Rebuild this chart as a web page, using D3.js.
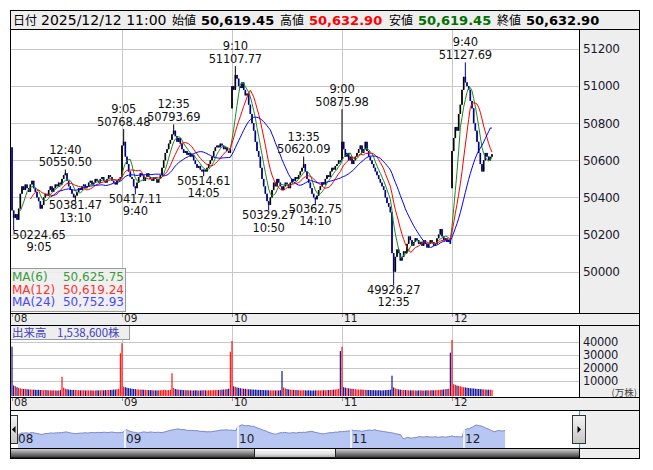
<!DOCTYPE html>
<html><head><meta charset="utf-8">
<script src="https://cdn.jsdelivr.net/npm/d3@7/dist/d3.min.js"></script>
<style>
html,body{margin:0;padding:0;background:#fff;}
svg{display:block;}
text{font-family:"DejaVu Sans","Noto Sans CJK JP",sans-serif;}
.cjk{font-family:"Noto Sans CJK JP","DejaVu Sans",sans-serif;}
</style></head><body>
<svg id="chart" width="653" height="470"></svg>
<script>
// ---------------- DATA ----------------
const days = ["08","09","10","11","12"];
const yearMonth = "2025/12";
const lastTime = "11:00";
const dayOpens = [50670, 50510, 50880, 50600, 50450];

const close08 = [50330,50290,50310,50280,50340,50420,50460,50440,50470,50450,
 50430,50470,50490,50450,50430,50400,50380,50340,50360,50400,
 50420,50410,50440,50460,50430,50450,50470,50460,50480,50470,
 50500,50520,50530,50490,50460,50440,50420,50400,50410,50430,
 50450,50440,50460,50470,50450,50460,50480,50490,50470,50480,
 50500,50490,50480,50500,50510,50490,50480,50500,50520,50510,
 50490,50480,50470,50490,50500,50510];
const close09 = [50680,50700,50620,50580,50540,50510,50500,50460,50450,50480,
 50510,50530,50520,50490,50510,50530,50510,50500,50490,50510,
 50500,50480,50500,50520,50560,50600,50640,50660,50690,50710,
 50740,50760,50730,50700,50720,50690,50660,50640,50650,50630,
 50640,50620,50630,50600,50580,50560,50570,50550,50540,50550,
 50540,50560,50580,50600,50620,50650,50670,50680,50670,50690,
 50680,50660,50670,50650,50640,50660];
const close10 = [51000,50980,51060,51040,51000,50990,51020,50980,50950,50960,
 50900,50850,50800,50760,50700,50650,50620,50560,50500,50460,
 50420,50380,50360,50400,50440,50480,50460,50500,50480,50460,
 50440,50460,50480,50470,50450,50480,50500,50490,50510,50500,
 50520,50540,50560,50580,50540,50500,50480,50450,50420,50400,
 50390,50410,50440,50460,50480,50470,50500,50520,50510,50540,
 50560,50550,50570,50580,50600,50590];
const close11 = [50700,50660,50620,50640,50600,50620,50580,50600,50620,50640,
 50660,50680,50640,50660,50700,50650,50620,50600,50580,50560,
 50540,50520,50500,50480,50460,50440,50400,50370,50350,50320,
 50100,50000,50080,50120,50100,50060,50080,50110,50100,50150,
 50190,50170,50140,50160,50180,50170,50150,50160,50140,50170,
 50150,50130,50150,50170,50160,50140,50150,50180,50200,50230,
 50190,50170,50180,50160,50170,50150];
const close12 = [50650,50720,50780,50760,50850,50900,50980,51050,51020,51000,
 50980,50920,50880,50800,50760,50700,50640,50580,50540,50600,
 50640,50620,50600,50619.45,50632.90];

const vol08 = [36600,6500,6000,5200,4600,4300,4000,3800,3800,3600,
 3500,3400,3300,3300,3200,3100,3200,3000,3000,2900,
 3000,2900,2800,2800,2700,2800,2700,2600,2700,2900,
 13300,4800,4000,3600,3400,3200,3100,3100,3000,2900,
 2900,2800,2800,2900,2700,2800,2700,2800,2700,2600,
 2700,2800,2700,2800,2900,2800,3000,2900,3000,3100,
 3200,3300,3400,3600,3900,31500];
const vol09 = [39200,5600,5200,4800,4500,4200,4000,3800,3700,3500,
 3400,3300,3300,3200,3100,3000,3000,2900,2900,2800,
 2800,2700,2800,2900,3000,3100,3000,2900,3000,3100,
 16000,4500,3800,3500,3300,3200,3100,3000,2900,2900,
 2800,2800,2700,2700,2800,2700,2600,2700,2800,2900,
 2800,2700,2800,2900,2800,2900,3000,3000,3100,3200,
 3300,3400,3500,3700,4000,32700];
const vol10 = [41000,5900,5500,5000,4700,4400,4200,4000,3900,3700,
 3600,3500,3400,3300,3300,3200,3100,3100,3000,3000,
 2900,2900,2800,2800,2700,2800,2700,2800,2700,2900,
 17700,5000,4200,3800,3500,3300,3200,3100,3000,3000,
 2900,2800,2800,2900,2800,2700,2800,2700,2600,2700,
 2800,2700,2800,2700,2800,2900,2800,3000,3000,3100,
 3200,3300,3400,3600,3900,33200];
const vol11 = [36600,5200,4800,4500,4300,4100,3900,3800,3700,3500,
 3400,3400,3300,3200,3200,3100,3000,3000,2900,2900,
 2800,2800,2900,2800,2700,2800,2900,3000,3100,3300,
 14100,5000,4200,3800,3500,3300,3100,3000,3000,2900,
 2800,2800,2700,2800,2700,2600,2700,2800,2700,2600,
 2700,2800,2700,2800,2900,2800,2900,3000,3100,3200,
 3300,3400,3600,3800,4000,32000];
const vol12 = [41800,7500,7000,6500,6200,5800,5500,5200,5000,4800,
 4600,4400,4300,4200,4000,3900,3800,3700,3600,3500,
 3400,3300,3300,3200,3100];

// annotated local highs / lows
const annoDay   = [0,0,0,1,1,1,1,2,2,2,2,3,3,4];
const annoTime  = ["9:05","12:40","13:10","9:05","9:40","12:35","14:05","9:10","10:50","13:35","14:10","9:00","12:35","9:40"];
const annoValue = [50224.65,50550.50,50381.47,50768.48,50417.11,50793.69,50514.61,51107.77,50329.27,50620.09,50362.75,50875.98,49926.27,51127.69];
const annoType  = ["L","H","L","H","L","H","L","H","L","H","L","H","L","H"];

const priceTicks = [50000,50200,50400,50600,50800,51000,51200];
const volTicks = [10000,20000,30000,40000];
const maPeriods = [6,12,24];
const maNames = ["MA(6)","MA(12)","MA(24)"];
const maLegendValues = [50625.75, 50619.24, 50752.93];
const volumeTotal = 1538600;

// ---------------- BUILD ----------------
const closes = [close08, close09, close10, close11, close12];
const vols = [vol08, vol09, vol10, vol11, vol12];
const PER_DAY = 66;
const bars = [];
closes.forEach((arr, d) => arr.forEach((c, i) => {
  const o = i === 0 ? dayOpens[d] : bars[bars.length - 1].c;
  bars.push({g: d * PER_DAY + i, d, i, o, c, h: Math.max(o, c), l: Math.min(o, c), v: vols[d][i]});
}));
function timeToIdx(t) {
  const [h, m] = t.split(":").map(Number);
  const mins = h * 60 + m;
  return mins < 720 ? (mins - 540) / 5 : 30 + (mins - 750) / 5;
}
const annos = annoDay.map((d, k) => {
  const b = bars.find(q => q.d === d && q.i === timeToIdx(annoTime[k]));
  if (annoType[k] === "H") b.h = Math.max(b.h, annoValue[k]); else b.l = Math.min(b.l, annoValue[k]);
  return {b, t: annoTime[k], v: annoValue[k], type: annoType[k]};
});
const mas = maPeriods.map(n => bars.map((b, k) => k < n - 1 ? null :
  d3.mean(bars.slice(k - n + 1, k + 1), q => q.c)));

// ---------------- LAYOUT ----------------
const svg = d3.select("#chart");
const L = 10, R = 640, PR = 579;
const HB = 29, MB = 313, D1B = 325, VB = 397, D2B = 410, NB = 448, FB = 458;
const GRAY = "#eeeeee", GRID = "#c8c8c8";
const UP = "#000000", DOWN = "#00008c", VUP = "#ff0000", VDN = "#00008c";
const MACOL = ["#1a8a1a", "#ff0000", "#0000ff"];
const MATXT = ["#3a9a3a", "#ff3333", "#4848ff"];

const x = d3.scaleLinear().domain([0, PER_DAY]).range([12, 122]);
const y = d3.scaleLinear().domain([50000, 51200]).range([271.7, 49]);
const yv = d3.scaleLinear().domain([0, 40000]).range([393.9, 342.3]);
const nx = d3.scaleLinear().domain([0, PER_DAY]).range([12, 125]);
const ny = d3.scaleLinear().domain([49926, 51127]).range([440, 424]);

const defs = svg.append("defs");
defs.append("clipPath").attr("id", "cpMain").append("rect").attr("x", L + 1).attr("y", HB + 1).attr("width", PR - L - 1).attr("height", MB - HB - 1);
defs.append("clipPath").attr("id", "cpNav").append("rect").attr("x", 18).attr("y", D2B + 1).attr("width", 554).attr("height", NB - D2B - 1);
function grad(id, stops) {
  const g = defs.append("linearGradient").attr("id", id).attr("x1", 0).attr("y1", 0).attr("x2", 0).attr("y2", 1);
  stops.forEach(([o, c]) => g.append("stop").attr("offset", o).attr("stop-color", c));
}
grad("gBar", [[0, "#d8d8d8"], [0.5, "#8a8a8a"], [1, "#3a3a3a"]]);
grad("gThumb", [[0, "#ffffff"], [0.6, "#e0e0e0"], [1, "#a8a8a8"]]);
grad("gBtn", [[0, "#f4f4f4"], [1, "#c4c4c4"]]);

// backgrounds
svg.append("rect").attr("x", L).attr("y", 10).attr("width", R - L).attr("height", HB - 10).attr("fill", GRAY);
svg.append("rect").attr("x", PR).attr("y", HB).attr("width", R - PR).attr("height", MB - HB).attr("fill", GRAY);
svg.append("rect").attr("x", L).attr("y", MB).attr("width", R - L).attr("height", D1B - MB).attr("fill", GRAY);
svg.append("rect").attr("x", PR).attr("y", D1B).attr("width", R - PR).attr("height", VB - D1B).attr("fill", GRAY);
svg.append("rect").attr("x", L).attr("y", VB).attr("width", R - L).attr("height", D2B - VB).attr("fill", GRAY);
svg.append("rect").attr("x", PR).attr("y", D2B).attr("width", R - PR).attr("height", FB - D2B).attr("fill", GRAY);

// ---------------- HEADER ----------------
const last = bars[bars.length - 1];
const f2 = d3.format(",.2f");
const header = [
  {t: "日付", x: 13, cjk: true},
  {t: `${yearMonth}/${days[days.length - 1]} ${lastTime}`, x: 41, size: 14},
  {t: "始値", x: 172, cjk: true}, {t: f2(last.o), x: 201, bold: true, col: "#000"},
  {t: "高値", x: 280, cjk: true}, {t: f2(last.h), x: 309, bold: true, col: "#ff0000"},
  {t: "安値", x: 389, cjk: true}, {t: f2(last.l), x: 418, bold: true, col: "#007000"},
  {t: "終値", x: 497, cjk: true}, {t: f2(last.c), x: 526, bold: true, col: "#000"}
];
header.forEach(h => {
  svg.append("text").attr("x", h.x).attr("y", 24.5).text(h.t)
    .attr("class", h.cjk ? "cjk" : null)
    .attr("font-size", h.cjk ? 12 : (h.size || 13))
    .attr("font-weight", h.bold ? "bold" : "normal")
    .attr("fill", h.col || "#000");
});

// ---------------- MAIN GRID ----------------
const gMain = svg.append("g");
gMain.selectAll(".hg").data(priceTicks).join("line")
  .attr("x1", L).attr("x2", PR).attr("y1", d => Math.round(y(d)) + 0.5).attr("y2", d => Math.round(y(d)) + 0.5)
  .attr("stroke", GRID);
const dayStarts = days.map((d, k) => k * PER_DAY);
gMain.selectAll(".vg").data(dayStarts.slice(1)).join("line")
  .attr("x1", d => Math.round(x(d)) + 0.5).attr("x2", d => Math.round(x(d)) + 0.5).attr("y1", HB).attr("y2", MB)
  .attr("stroke", GRID);

// axis labels (price)
const axP = svg.append("g").attr("transform", `translate(${PR},0)`)
  .call(d3.axisRight(y).tickValues(priceTicks).tickSize(0).tickPadding(4).tickFormat(d3.format("d")));
axP.select(".domain").remove();
axP.selectAll("text").attr("font-size", 12).attr("fill", "#1a1a2e").attr("font-family", "DejaVu Sans").attr("letter-spacing", "-0.3");

// candles
const gC = svg.append("g").attr("clip-path", "url(#cpMain)");
gC.selectAll(".wick").data(bars).join("line")
  .attr("x1", b => x(b.g)).attr("x2", b => x(b.g)).attr("y1", b => y(b.h)).attr("y2", b => y(b.l))
  .attr("stroke", b => b.c >= b.o ? UP : DOWN).attr("stroke-width", 1);
gC.selectAll(".body").data(bars).join("rect")
  .attr("x", b => x(b.g) - 0.8).attr("width", 1.6)
  .attr("y", b => y(Math.max(b.o, b.c))).attr("height", b => Math.max(1, Math.abs(y(b.o) - y(b.c))))
  .attr("fill", b => b.c >= b.o ? UP : DOWN);

// moving averages
mas.forEach((arr, k) => {
  const line = d3.line().defined(d => d.v != null).x(d => x(d.g)).y(d => y(d.v));
  gC.append("path").datum(bars.map((b, j) => ({g: b.g, v: arr[j]})))
    .attr("d", line).attr("fill", "none").attr("stroke", MACOL[k]).attr("stroke-width", 1);
});

// annotations
const gA = svg.append("g").attr("font-size", 11.5).attr("fill", "#111").attr("text-anchor", "middle").attr("letter-spacing", "-0.2");
annos.forEach(a => {
  const px = x(a.b.g), py = y(a.v);
  const cx = Math.max(px, L + 1 + 28), vs = a.v.toFixed(2);
  if (a.type === "H") {
    gA.append("text").attr("x", cx).attr("y", py - 7.5).attr("dy", "0.35em").text(vs);
    gA.append("text").attr("x", cx).attr("y", py - 20).attr("dy", "0.35em").text(a.t);
  } else {
    gA.append("text").attr("x", cx).attr("y", py + 4.5).attr("dy", "0.35em").text(vs);
    gA.append("text").attr("x", cx).attr("y", py + 17).attr("dy", "0.35em").text(a.t);
  }
});

// MA legend
const gL = svg.append("g");
gL.append("rect").attr("x", L + 0.5).attr("y", 268.5).attr("width", 115).attr("height", 43).attr("fill", "#eeeeee").attr("fill-opacity", 0.9).attr("stroke", "#9a9a9a");
maNames.forEach((n, k) => {
  const yy = 277 + k * 12.5;
  gL.append("text").attr("x", 12).attr("y", yy).attr("dy", "0.35em").attr("font-size", 12).attr("fill", MATXT[k]).text(n);
  gL.append("text").attr("x", 124).attr("y", yy).attr("dy", "0.35em").attr("font-size", 12).attr("text-anchor", "end").attr("fill", MATXT[k]).text(f2(maLegendValues[k]));
});

// day strip labels
function dayStrip(top, xs, x0) {
  days.forEach((d, k) => {
    const xx = xs(k * PER_DAY);
    svg.append("line").attr("x1", Math.round(xx) + 0.5).attr("x2", Math.round(xx) + 0.5).attr("y1", top).attr("y2", top + 4).attr("stroke", "#999");
    svg.append("text").attr("x", Math.max(xx, x0) + 2).attr("y", top + 9).attr("font-size", 10.5).attr("fill", "#222").text(d);
  });
}
dayStrip(MB, x, 11);
dayStrip(VB, x, 11);

// ---------------- VOLUME ----------------
svg.selectAll(".vgrid").data(volTicks).join("line")
  .attr("x1", L).attr("x2", PR).attr("y1", d => Math.round(yv(d)) + 0.5).attr("y2", d => Math.round(yv(d)) + 0.5).attr("stroke", GRID);
svg.selectAll(".vvg").data(dayStarts.slice(1)).join("line")
  .attr("x1", d => Math.round(x(d)) + 0.5).attr("x2", d => Math.round(x(d)) + 0.5).attr("y1", D1B).attr("y2", VB).attr("stroke", GRID);
svg.append("g").selectAll("rect").data(bars).join("rect")
  .attr("x", b => x(b.g) - 0.55).attr("width", 1.1)
  .attr("y", b => yv(b.v)).attr("height", b => VB - 1 - yv(b.v))
  .attr("fill", b => b.c >= b.o ? VUP : VDN);
const axV = svg.append("g").attr("transform", `translate(${PR},0)`)
  .call(d3.axisRight(yv).tickValues(volTicks).tickSize(0).tickPadding(4).tickFormat(d3.format("d")));
axV.select(".domain").remove();
axV.selectAll("text").attr("font-size", 11.5).attr("fill", "#1a1a2e").attr("font-family", "DejaVu Sans").attr("letter-spacing", "-0.3");
svg.append("text").attr("x", 637).attr("y", 393).attr("dy", "0.35em").attr("text-anchor", "end").attr("class", "cjk").attr("font-size", 9.5).attr("fill", "#444").text("(万株)");
svg.append("rect").attr("x", L + 0.5).attr("y", D1B + 0.5).attr("width", 119).attr("height", 14).attr("fill", "#eeeeee").attr("stroke", "#9a9a9a");
svg.append("text").attr("x", 12).attr("y", D1B + 8).attr("dy", "0.35em").attr("class", "cjk").attr("font-size", 11.5).attr("fill", "#4040c0").text("出来高");
svg.append("text").attr("x", 57).attr("y", D1B + 8).attr("dy", "0.35em").attr("class", "cjk").attr("font-size", 11.5).attr("fill", "#4040c0").text(d3.format(",")(volumeTotal) + "株");

// ---------------- NAVIGATOR ----------------
const gN = svg.append("g").attr("clip-path", "url(#cpNav)");
gN.append("path").datum(bars)
  .attr("d", d3.area().x(b => nx(b.g)).y0(NB).y1(b => ny(b.c)))
  .attr("fill", "#b8c6f4");
gN.append("path").datum(bars)
  .attr("d", d3.line().x(b => nx(b.g)).y(b => ny(b.c)))
  .attr("fill", "none").attr("stroke", "#7a86c4").attr("stroke-width", 1);
dayStarts.forEach((g, k) => {
  gN.append("line").attr("x1", nx(g)).attr("x2", nx(g)).attr("y1", ny(last.c) - 20).attr("y2", NB).attr("stroke", "#fff").attr("stroke-width", 1.5);
  gN.append("text").attr("x", Math.max(nx(g), 17) + 1).attr("y", 443).attr("font-size", 12).attr("font-family", "Liberation Serif").attr("fill", "#222").text(days[k]);
});
svg.append("line").attr("x1", L + 0.5).attr("x2", L + 0.5).attr("y1", D2B).attr("y2", NB).attr("stroke", "#3aa0d8");
svg.append("line").attr("x1", PR + 0.5).attr("x2", PR + 0.5).attr("y1", D2B).attr("y2", NB).attr("stroke", "#3aa0d8");
// buttons
function button(x0, w, dir) {
  svg.append("rect").attr("x", x0 + 0.5).attr("y", 415.5).attr("width", w).attr("height", 28).attr("fill", "url(#gBtn)").attr("stroke", "#333");
  const cx = x0 + w / 2 + 0.5, cy = 429.5;
  const pts = dir < 0 ? [[cx - 2, cy], [cx + 1.5, cy - 3.5], [cx + 1.5, cy + 3.5]] : [[cx + 2, cy], [cx - 1.5, cy - 3.5], [cx - 1.5, cy + 3.5]];
  svg.append("polygon").attr("points", pts.map(p => p.join(",")).join(" ")).attr("fill", "#000");
}
button(10, 7, -1);
button(572, 13, 1);
// scrollbar
svg.append("rect").attr("x", L + 0.5).attr("y", NB + 0.5).attr("width", PR - L).attr("height", FB - NB - 1).attr("fill", "url(#gBar)").attr("stroke", "#222");
svg.append("rect").attr("x", 254.5).attr("y", NB + 0.5).attr("width", 81).attr("height", FB - NB - 1).attr("fill", "url(#gThumb)").attr("stroke", "#222");

// ---------------- FRAME LINES ----------------
const hl = [HB, MB, D1B, VB, D2B, NB];
hl.forEach(yy => svg.append("line").attr("x1", L).attr("x2", R).attr("y1", yy + 0.5).attr("y2", yy + 0.5).attr("stroke", "#000"));
[[HB, MB], [D1B, VB]].forEach(([a, b]) => svg.append("line").attr("x1", PR + 0.5).attr("x2", PR + 0.5).attr("y1", a).attr("y2", b).attr("stroke", "#000"));
svg.append("line").attr("x1", PR + 0.5).attr("x2", PR + 0.5).attr("y1", NB).attr("y2", FB).attr("stroke", "#000");
svg.append("rect").attr("x", L + 0.5).attr("y", 10.5).attr("width", R - L - 1).attr("height", FB - 10).attr("fill", "none").attr("stroke", "#000");
</script>
</body></html>
